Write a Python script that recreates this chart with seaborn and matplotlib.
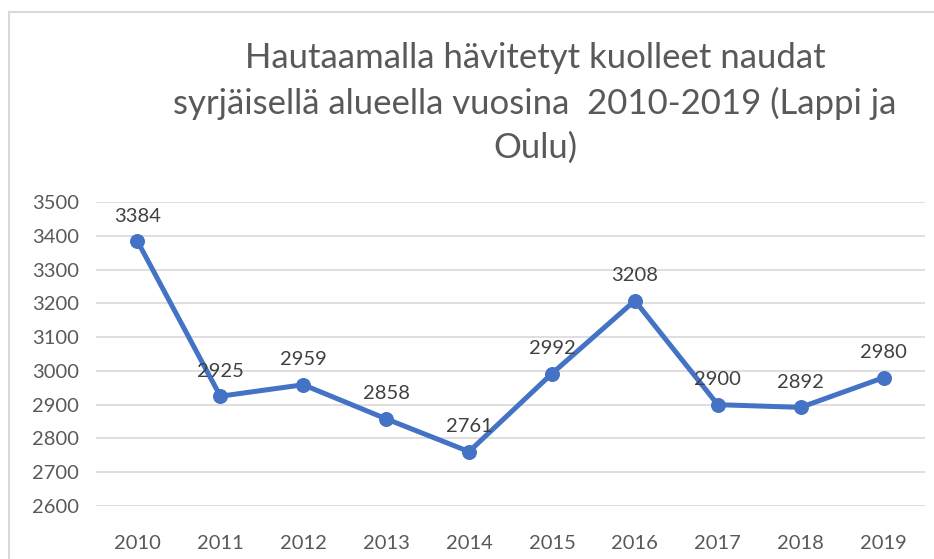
import matplotlib
matplotlib.use("Agg")
import matplotlib.pyplot as plt
import seaborn as sns
import pandas as pd
from matplotlib.patches import Rectangle

years = ["2010", "2011", "2012", "2013", "2014", "2015", "2016", "2017", "2018", "2019"]
values = [3384, 2925, 2959, 2858, 2761, 2992, 3208, 2900, 2892, 2980]
yticks = [2600, 2700, 2800, 2900, 3000, 3100, 3200, 3300, 3400, 3500]
title = "Hautaamalla hävitetyt kuolleet naudat\nsyrjäisellä alueella vuosina  2010-2019 (Lappi ja\nOulu)"

sns.set_theme(style="white")
plt.rcParams['font.family'] = ['Lato', 'DejaVu Sans']

df = pd.DataFrame({"year": years, "value": values})

fig = plt.figure(figsize=(9.34, 5.59), dpi=100)
ax = fig.add_axes([96/934, 1-506/559, (925-96)/934, (506-202)/559])

sns.lineplot(data=df, x="year", y="value", ax=ax, color="#4472C4", linewidth=3.6,
             marker="o", markersize=10, markeredgecolor="#4472C4", sort=False)

for i, v in enumerate(values):
    ax.annotate(str(v), (i, v), xytext=(0, 12), textcoords="offset points",
                ha="center", va="bottom", fontsize=14.5, color="#404040")

ax.set_xlim(-0.5, len(years) - 0.5)
ax.set_ylim(2600, 3500)
ax.set_yticks(yticks)
ax.set_yticklabels([str(t) for t in yticks])
ax.yaxis.grid(True, color="#D9D9D9", linewidth=1.2)
ax.xaxis.grid(False)
ax.set_axisbelow(True)
for s in ax.spines.values():
    s.set_visible(False)
ax.tick_params(axis="both", length=0, labelsize=14.5, colors="#595959")
ax.tick_params(axis="x", pad=21)
ax.tick_params(axis="y", pad=12)
ax.set_xlabel("")
ax.set_ylabel("")

fig.text(535/934, 1-103/559, title, ha="center", va="center", fontsize=25,
         color="#595959", linespacing=1.45)

fig.patches.append(Rectangle((9/934, -0.1), 1.2, 1.1 - 12/559, transform=fig.transFigure,
                             fill=False, edgecolor="#D9D9D9", linewidth=1.5))

fig.savefig("out.png", dpi=100)
